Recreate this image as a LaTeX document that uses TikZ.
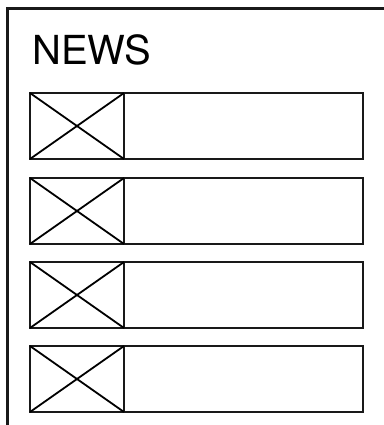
\documentclass[tikz,border=0pt]{standalone}
\usepackage{fontspec}
\setmainfont{TeX Gyre Heros}
\begin{document}
\begin{tikzpicture}[x=1pt,y=1pt,
  frame/.style={line width=2.4pt,draw=black!90},
  rowbox/.style={line width=2.2pt,draw=black!90},
  crossline/.style={line width=1.8pt,draw=black}]
\useasboundingbox (0,0) rectangle (383,425);
\coordinate (fbl) at (7.5,-2);
\coordinate (ftl) at (7.5,416.5);
\coordinate (ftr) at (385,416.5);
\draw[frame] (fbl) -- (ftl) -- (ftr);
\node[anchor=base west,inner sep=0pt,font=\fontsize{40}{40}\selectfont] (title) at (32,360) {NEWS};
\foreach \i/\t in {1/93,2/178,3/262,4/346}{
  \coordinate (r\i a) at (30,425-\t);
  \coordinate (r\i b) at (363,425-\t-66);
  \coordinate (r\i c) at (124,425-\t);
  \coordinate (r\i d) at (124,425-\t-66);
  \coordinate (r\i e) at (30,425-\t-66);
  \draw[rowbox] (r\i a) rectangle (r\i b);
  \draw[rowbox] (r\i c) -- (r\i d);
  \draw[crossline] (r\i a) -- (r\i d);
  \draw[crossline] (r\i e) -- (r\i c);
}
\end{tikzpicture}
\end{document}
